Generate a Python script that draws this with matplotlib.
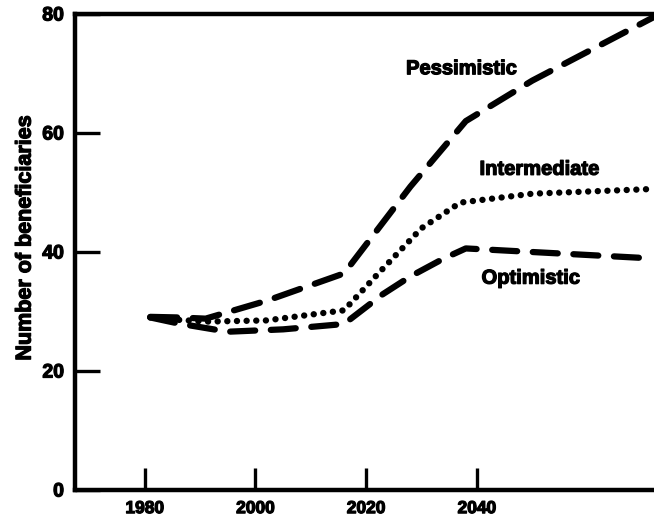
# Medicare beneficiaries projection - three scenarios
import matplotlib
matplotlib.use("Agg")
import matplotlib.pyplot as plt
import matplotlib.patheffects as pe

plt.rcParams['font.family'] = ['Liberation Sans', 'DejaVu Sans']
plt.rcParams['font.weight'] = 'bold'

pess_years = [1981, 1986, 1991, 2002, 2016, 2028, 2038, 2050, 2072]
pess_values = [29.1, 29.0, 28.8, 31.8, 36.4, 51.0, 62.0, 68.8, 79.5]

inter_years = [1981, 1986, 1991, 2002, 2016, 2022, 2030, 2037, 2050, 2072]
inter_values = [29.0, 28.6, 28.3, 28.5, 30.2, 36.2, 44.0, 48.3, 49.8, 50.6]

opt_years = [1981, 1986, 1995, 2005, 2016, 2023, 2028, 2034, 2038, 2050, 2072]
opt_values = [29.0, 28.0, 26.6, 27.0, 27.9, 32.9, 35.9, 38.9, 40.6, 40.0, 38.9]

x_ticks = [1980, 2000, 2020, 2040]
y_ticks = [0, 20, 40, 60, 80]

# ink spread of the scan
ink = [pe.withStroke(linewidth=0.9, foreground='black')]

fig = plt.figure(figsize=(6.54, 5.20), dpi=100)
ax = fig.add_axes([75 / 654, 30 / 520, 579 / 654, 476 / 520])

ax.plot(pess_years, pess_values, color='black', lw=4.5,
        linestyle=(0, (4.3, 2.5)), dash_capstyle='round')
ax.plot(inter_years, inter_values, color='black', lw=4.6,
        linestyle=(0, (0.01, 1.5)), dash_capstyle='round')
ax.plot(opt_years, opt_values, color='black', lw=4.5,
        linestyle=(0, (4.0, 2.5)), dash_capstyle='round')

ax.set_xlim(1967.4, 2072)
ax.set_ylim(0, 80)
ax.set_xticks(x_ticks)
ax.set_yticks(y_ticks)
ax.tick_params(axis='x', direction='in', length=16, width=2.4, labelsize=12.5, pad=8)
ax.tick_params(axis='y', direction='in', length=18, width=2.4, labelsize=14, pad=8)
ax.set_ylabel('Number of beneficiaries', fontsize=15.5, fontweight='bold',
              path_effects=ink)
ax.yaxis.set_label_coords(-0.068, 0.53)
for lab in ax.get_xticklabels() + ax.get_yticklabels():
    lab.set_path_effects(ink)

for side in ['left', 'top', 'bottom']:
    ax.spines[side].set_linewidth(3.2)
ax.spines['right'].set_visible(False)

# scenario labels
ax.text(2037.2, 70.8, 'Pessimistic', fontsize=14.5, ha='center', va='center',
        path_effects=ink)
ax.text(2051.3, 53.9, 'Intermediate', fontsize=14.5, ha='center', va='center',
        path_effects=ink)
ax.text(2049.7, 35.6, 'Optimistic', fontsize=14.5, ha='center', va='center',
        path_effects=ink)

plt.savefig('out.png', dpi=100)
